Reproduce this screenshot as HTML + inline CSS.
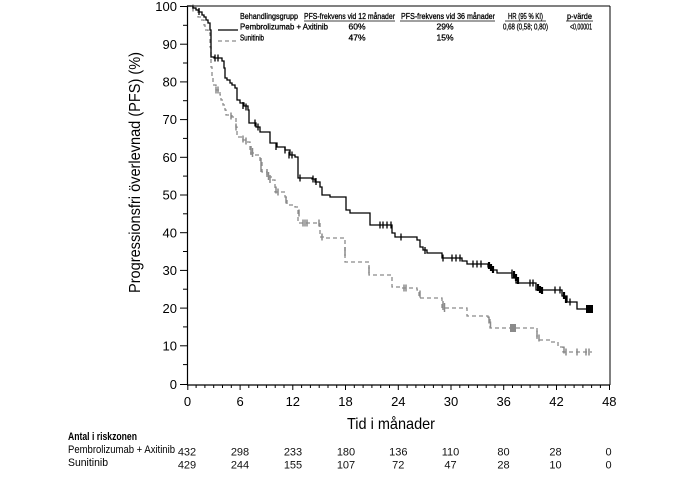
<!DOCTYPE html>
<html>
<head>
<meta charset="utf-8">
<style>
html,body{margin:0;padding:0;background:#fff;}
svg{display:block;}
text{font-family:"Liberation Sans",Arial,sans-serif;}
</style>
</head>
<body>
<svg width="694" height="501" viewBox="0 0 694 501" xmlns="http://www.w3.org/2000/svg">
<rect width="694" height="501" fill="#fff"/>

<!-- plot frame -->
<line x1="187" y1="6" x2="610" y2="6" stroke="#000" stroke-width="1"/>
<line x1="610" y1="6" x2="610" y2="385" stroke="#000" stroke-width="1"/>
<line x1="187.5" y1="5.5" x2="187.5" y2="385" stroke="#000" stroke-width="1.2"/>
<line x1="187" y1="385" x2="610" y2="385" stroke="#000" stroke-width="1.2"/>

<!-- y ticks -->
<g stroke="#000" stroke-width="1">
<line x1="180" y1="6.5" x2="187" y2="6.5"/>
<line x1="183" y1="25.3" x2="187" y2="25.3"/>
<line x1="180" y1="44.2" x2="187" y2="44.2"/>
<line x1="183" y1="63" x2="187" y2="63"/>
<line x1="180" y1="81.9" x2="187" y2="81.9"/>
<line x1="183" y1="100.7" x2="187" y2="100.7"/>
<line x1="180" y1="119.6" x2="187" y2="119.6"/>
<line x1="183" y1="138.4" x2="187" y2="138.4"/>
<line x1="180" y1="157.3" x2="187" y2="157.3"/>
<line x1="183" y1="176.1" x2="187" y2="176.1"/>
<line x1="180" y1="195" x2="187" y2="195"/>
<line x1="183" y1="213.8" x2="187" y2="213.8"/>
<line x1="180" y1="232.7" x2="187" y2="232.7"/>
<line x1="183" y1="251.5" x2="187" y2="251.5"/>
<line x1="180" y1="270.4" x2="187" y2="270.4"/>
<line x1="183" y1="289.2" x2="187" y2="289.2"/>
<line x1="180" y1="308.1" x2="187" y2="308.1"/>
<line x1="183" y1="326.9" x2="187" y2="326.9"/>
<line x1="180" y1="345.8" x2="187" y2="345.8"/>
<line x1="183" y1="364.6" x2="187" y2="364.6"/>
<line x1="180" y1="384.5" x2="187" y2="384.5"/>
</g>
<g font-size="13" text-anchor="end" fill="#000">
<text x="177" y="11">100</text>
<text x="177" y="49">90</text>
<text x="177" y="86.5">80</text>
<text x="177" y="124">70</text>
<text x="177" y="162">60</text>
<text x="177" y="199.5">50</text>
<text x="177" y="237.5">40</text>
<text x="177" y="275">30</text>
<text x="177" y="313">20</text>
<text x="177" y="350.5">10</text>
<text x="177" y="389">0</text>
</g>

<!-- x ticks -->
<g stroke="#000" stroke-width="1">
<line x1="187.8" y1="385" x2="187.8" y2="390"/>
<line x1="196.1" y1="385" x2="196.1" y2="388"/>
<line x1="204.9" y1="385" x2="204.9" y2="388"/>
<line x1="213.7" y1="385" x2="213.7" y2="388"/>
<line x1="222.5" y1="385" x2="222.5" y2="388"/>
<line x1="231.3" y1="385" x2="231.3" y2="388"/>
<line x1="240.1" y1="385" x2="240.1" y2="390"/>
<line x1="248.8" y1="385" x2="248.8" y2="388"/>
<line x1="257.6" y1="385" x2="257.6" y2="388"/>
<line x1="266.4" y1="385" x2="266.4" y2="388"/>
<line x1="275.2" y1="385" x2="275.2" y2="388"/>
<line x1="284" y1="385" x2="284" y2="388"/>
<line x1="292.8" y1="385" x2="292.8" y2="390"/>
<line x1="301.6" y1="385" x2="301.6" y2="388"/>
<line x1="310.4" y1="385" x2="310.4" y2="388"/>
<line x1="319.2" y1="385" x2="319.2" y2="388"/>
<line x1="328" y1="385" x2="328" y2="388"/>
<line x1="336.7" y1="385" x2="336.7" y2="388"/>
<line x1="345.5" y1="385" x2="345.5" y2="390"/>
<line x1="354.3" y1="385" x2="354.3" y2="388"/>
<line x1="363.1" y1="385" x2="363.1" y2="388"/>
<line x1="371.9" y1="385" x2="371.9" y2="388"/>
<line x1="380.7" y1="385" x2="380.7" y2="388"/>
<line x1="389.5" y1="385" x2="389.5" y2="388"/>
<line x1="398.3" y1="385" x2="398.3" y2="390"/>
<line x1="407.1" y1="385" x2="407.1" y2="388"/>
<line x1="415.9" y1="385" x2="415.9" y2="388"/>
<line x1="424.6" y1="385" x2="424.6" y2="388"/>
<line x1="433.4" y1="385" x2="433.4" y2="388"/>
<line x1="442.2" y1="385" x2="442.2" y2="388"/>
<line x1="451" y1="385" x2="451" y2="390"/>
<line x1="459.8" y1="385" x2="459.8" y2="388"/>
<line x1="468.6" y1="385" x2="468.6" y2="388"/>
<line x1="477.4" y1="385" x2="477.4" y2="388"/>
<line x1="486.2" y1="385" x2="486.2" y2="388"/>
<line x1="495" y1="385" x2="495" y2="388"/>
<line x1="503.7" y1="385" x2="503.7" y2="390"/>
<line x1="512.5" y1="385" x2="512.5" y2="388"/>
<line x1="521.3" y1="385" x2="521.3" y2="388"/>
<line x1="530.1" y1="385" x2="530.1" y2="388"/>
<line x1="538.9" y1="385" x2="538.9" y2="388"/>
<line x1="547.7" y1="385" x2="547.7" y2="388"/>
<line x1="556.5" y1="385" x2="556.5" y2="390"/>
<line x1="565.3" y1="385" x2="565.3" y2="388"/>
<line x1="574.1" y1="385" x2="574.1" y2="388"/>
<line x1="582.9" y1="385" x2="582.9" y2="388"/>
<line x1="591.6" y1="385" x2="591.6" y2="388"/>
<line x1="600.4" y1="385" x2="600.4" y2="388"/>
<line x1="609.5" y1="385" x2="609.5" y2="390"/>
</g>
<g font-size="13" text-anchor="middle" fill="#000">
<text x="187.5" y="406">0</text>
<text x="240.1" y="406">6</text>
<text x="292.8" y="406">12</text>
<text x="345.5" y="406">18</text>
<text x="398.3" y="406">24</text>
<text x="451" y="406">30</text>
<text x="503.7" y="406">36</text>
<text x="556.5" y="406">42</text>
<text x="609.3" y="406">48</text>
</g>

<!-- axis titles -->
<text x="391" y="429" font-size="16" text-anchor="middle" textLength="88" lengthAdjust="spacingAndGlyphs">Tid i månader</text>
<text transform="translate(140,172.5) rotate(-90)" x="0" y="0" font-size="15.5" text-anchor="middle" textLength="241" lengthAdjust="spacingAndGlyphs">Progressionsfri överlevnad (PFS) (%)</text>

<!-- Sunitinib (grey dashed) -->
<path d="M187,6 H191 V8 H196 V10 H198 V17 H201 V20 H204 V25 H205 V30 H208 V33 H210 V47 H211 V67 H212 V77 H213 V85 H216 V90 H220 V95 H221 V100 H223 V105 H225 V110 H226 V115 H232 V117 H235 V118 H236 V127 H237 V137 H243 V140 H247 V142 H250 V153 H255 V155 H260 V162 H262 V172 H267 V177 H272 V180 H275 V192 H285 V197 H287 V205 H295 V207 H298 V223 H320 V237 H325 V238 H345 V262 H369 V275 H392 V287 H400 V288 H417 V290 H419 V298 H442 V308 H467 V316 H488 V319 H490 V328 H537 V340 H550 V342 H558 V347 H563 V352 H592" fill="none" stroke="#8a8a8a" stroke-width="1.3" stroke-dasharray="4 3"/>
<g stroke="#8a8a8a" stroke-width="1.5">
<line x1="193" y1="4.5" x2="193" y2="11.5"/>
<line x1="216" y1="86.5" x2="216" y2="93.5"/>
<line x1="218" y1="86.5" x2="218" y2="93.5"/>
<line x1="231" y1="112.5" x2="231" y2="119.5"/>
<line x1="236" y1="123.5" x2="236" y2="130.5"/>
<line x1="243" y1="135.5" x2="243" y2="142.5"/>
<line x1="246" y1="137.5" x2="246" y2="144.5"/>
<line x1="251" y1="146" x2="251" y2="155"/>
<line x1="252.5" y1="148" x2="252.5" y2="157"/>
<line x1="261" y1="158" x2="261" y2="172"/>
<line x1="267" y1="169" x2="267" y2="177"/>
<line x1="268.5" y1="172" x2="268.5" y2="180"/>
<line x1="270" y1="175" x2="270" y2="183"/>
<line x1="276" y1="186.5" x2="276" y2="193.5"/>
<line x1="278" y1="188.5" x2="278" y2="195.5"/>
<line x1="286" y1="196.5" x2="286" y2="203.5"/>
<line x1="299" y1="209.5" x2="299" y2="216.5"/>
<line x1="303" y1="219.5" x2="303" y2="226.5"/>
<line x1="305" y1="219.5" x2="305" y2="226.5"/>
<line x1="307" y1="219.5" x2="307" y2="226.5"/>
<line x1="319" y1="219.5" x2="319" y2="226.5"/>
<line x1="322" y1="233.5" x2="322" y2="240.5"/>
<line x1="345" y1="247" x2="345" y2="256"/>
<line x1="369" y1="266.5" x2="369" y2="273.5"/>
<line x1="404" y1="284.5" x2="404" y2="291.5"/>
<line x1="406" y1="284.5" x2="406" y2="291.5"/>
<line x1="420" y1="290.5" x2="420" y2="297.5"/>
<line x1="443" y1="301" x2="443" y2="310"/>
<line x1="444.5" y1="303" x2="444.5" y2="312"/>
<line x1="489" y1="316.5" x2="489" y2="323.5"/>
<line x1="490.5" y1="321.5" x2="490.5" y2="328.5"/>
<line x1="537" y1="330.5" x2="537" y2="337.5"/>
<line x1="539" y1="334.5" x2="539" y2="341.5"/>
<line x1="564" y1="346.5" x2="564" y2="353.5"/>
<line x1="566" y1="348.5" x2="566" y2="355.5"/>
<line x1="577" y1="348.5" x2="577" y2="355.5"/>
<line x1="586" y1="348.5" x2="586" y2="355.5"/>
<line x1="589" y1="348.5" x2="589" y2="355.5"/>
</g>
<rect x="510" y="324" width="6" height="8" fill="#8a8a8a"/>

<!-- Pembrolizumab + Axitinib (black solid) -->
<path d="M187,6 H193 V8 H196 V10 H199 V12 H202 V15 H204 V17 H206 V20 H208 V23 H210 V30 H211 V57 H214 V58 H222 V61 H224 V68 H225 V78 H227 V80 H230 V83 H232 V85 H235 V88 H237 V100 H240 V103 H244 V106 H248 V110 H249 V123 H256 V127 H260 V132 H270 V143 H277 V147 H285 V150 H290 V155 H295 V157 H298 V178 H312 V179 H315 V182 H320 V187 H322 V195 H330 V197 H346 V210 H350 V213 H370 V225 H392 V233 H395 V237 H417 V240 H420 V247 H423 V250 H427 V253 H442 V258 H462 V261 H467 V264 H488 V267 H493 V270 H497 V273 H512 V278 H516 V283 H536 V290 H562 V296 H567 V302 H577 V309 H593" fill="none" stroke="#000" stroke-width="1.3"/>
<g stroke="#000" stroke-width="1.3">
<line x1="199" y1="8" x2="199" y2="15"/>
<line x1="215" y1="54.5" x2="215" y2="61.5"/>
<line x1="218" y1="54.5" x2="218" y2="61.5"/>
<line x1="243" y1="102" x2="243" y2="109"/>
<line x1="246" y1="103.5" x2="246" y2="110.5"/>
<line x1="255" y1="119.5" x2="255" y2="126.5"/>
<line x1="258" y1="123.5" x2="258" y2="130.5"/>
<line x1="276" y1="143" x2="276" y2="150"/>
<line x1="285" y1="146.5" x2="285" y2="153.5"/>
<line x1="289" y1="151.5" x2="289" y2="158.5"/>
<line x1="292" y1="151.5" x2="292" y2="158.5"/>
<line x1="300" y1="174.5" x2="300" y2="181.5"/>
<line x1="313" y1="175.5" x2="313" y2="182.5"/>
<line x1="316" y1="178" x2="316" y2="185"/>
<line x1="380" y1="221.5" x2="380" y2="228.5"/>
<line x1="383" y1="221.5" x2="383" y2="228.5"/>
<line x1="387" y1="221.5" x2="387" y2="228.5"/>
<line x1="391" y1="221.5" x2="391" y2="228.5"/>
<line x1="401" y1="233.5" x2="401" y2="240.5"/>
<line x1="425" y1="247" x2="425" y2="254"/>
<line x1="443" y1="254.5" x2="443" y2="261.5"/>
<line x1="452" y1="254.5" x2="452" y2="261.5"/>
<line x1="456" y1="254.5" x2="456" y2="261.5"/>
<line x1="460" y1="254.5" x2="460" y2="261.5"/>
<line x1="473" y1="260.5" x2="473" y2="267.5"/>
<line x1="477" y1="260.5" x2="477" y2="267.5"/>
<line x1="481" y1="260.5" x2="481" y2="267.5"/>
<line x1="512" y1="269.5" x2="512" y2="276.5"/>
<line x1="530" y1="279.5" x2="530" y2="286.5"/>
<line x1="533" y1="279.5" x2="533" y2="286.5"/>
<line x1="555" y1="286.5" x2="555" y2="293.5"/>
<line x1="560" y1="286.5" x2="560" y2="293.5"/>
<line x1="570" y1="298.5" x2="570" y2="305.5"/>
</g>
<g stroke="#000" stroke-width="2.2">
<line x1="489" y1="262" x2="489" y2="269"/>
<line x1="491" y1="264" x2="491" y2="271"/>
<line x1="493" y1="266" x2="493" y2="273"/>
<line x1="514" y1="271" x2="514" y2="278"/>
<line x1="516" y1="274" x2="516" y2="281"/>
<line x1="518" y1="277" x2="518" y2="284"/>
<line x1="538" y1="284" x2="538" y2="291"/>
<line x1="540" y1="286" x2="540" y2="293"/>
<line x1="542" y1="287" x2="542" y2="294"/>
<line x1="564" y1="292" x2="564" y2="299"/>
<line x1="566" y1="296" x2="566" y2="303"/>
</g>
<rect x="586" y="305" width="7" height="8" fill="#000"/>

<!-- legend -->
<g font-size="8.5" fill="#000" stroke="#000" stroke-width="0.3">
<text x="240" y="19" textLength="58" lengthAdjust="spacingAndGlyphs">Behandlingsgrupp</text>
<text x="304" y="19" textLength="91" lengthAdjust="spacingAndGlyphs">PFS-frekvens vid 12 månader</text>
<text x="401" y="19" textLength="94" lengthAdjust="spacingAndGlyphs">PFS-frekvens vid 36 månader</text>
<text x="508" y="19" textLength="35" lengthAdjust="spacingAndGlyphs">HR (95 % KI)</text>
<text x="567" y="19" textLength="25" lengthAdjust="spacingAndGlyphs">p-värde</text>
<text x="240" y="29.5" textLength="88" lengthAdjust="spacingAndGlyphs">Pembrolizumab + Axitinib</text>
<text x="357" y="29.5" text-anchor="middle">60%</text>
<text x="445" y="29.5" text-anchor="middle">29%</text>
<text x="503" y="29.5" textLength="45" lengthAdjust="spacingAndGlyphs">0,68 (0,58; 0,80)</text>
<text x="570" y="29.5" textLength="22" lengthAdjust="spacingAndGlyphs">&lt;0,00001</text>
<text x="240" y="40.5" textLength="24" lengthAdjust="spacingAndGlyphs">Sunitinib</text>
<text x="357" y="40.5" text-anchor="middle">47%</text>
<text x="445" y="40.5" text-anchor="middle">15%</text>
</g>
<g stroke="#000" stroke-width="0.8">
<line x1="304" y1="21" x2="395" y2="21"/>
<line x1="400" y1="21" x2="495" y2="21"/>
<line x1="505" y1="21" x2="546" y2="21"/>
<line x1="566" y1="21" x2="593" y2="21"/>
</g>
<line x1="218" y1="30" x2="238" y2="30" stroke="#000" stroke-width="1.3"/>
<line x1="218" y1="41" x2="238" y2="41" stroke="#8a8a8a" stroke-width="1.3" stroke-dasharray="4 3"/>

<!-- risk table -->
<text x="68" y="440" font-size="11" font-weight="bold" textLength="69" lengthAdjust="spacingAndGlyphs">Antal i riskzonen</text>
<text x="68" y="453" font-size="11" textLength="107" lengthAdjust="spacingAndGlyphs">Pembrolizumab + Axitinib</text>
<text x="68" y="466" font-size="11" textLength="40" lengthAdjust="spacingAndGlyphs">Sunitinib</text>
<g font-size="11" text-anchor="middle" fill="#111">
<text x="187" y="455.5">432</text>
<text x="240" y="455.5">298</text>
<text x="293" y="455.5">233</text>
<text x="346" y="455.5">180</text>
<text x="398.3" y="455.5">136</text>
<text x="450.5" y="455.5">110</text>
<text x="503.5" y="455.5">80</text>
<text x="555.5" y="455.5">28</text>
<text x="608.5" y="455.5">0</text>
<text x="187" y="468.5">429</text>
<text x="240" y="468.5">244</text>
<text x="293" y="468.5">155</text>
<text x="346" y="468.5">107</text>
<text x="398.3" y="468.5">72</text>
<text x="450.5" y="468.5">47</text>
<text x="503.5" y="468.5">28</text>
<text x="555.5" y="468.5">10</text>
<text x="608.5" y="468.5">0</text>
</g>
</svg>
</body>
</html>
